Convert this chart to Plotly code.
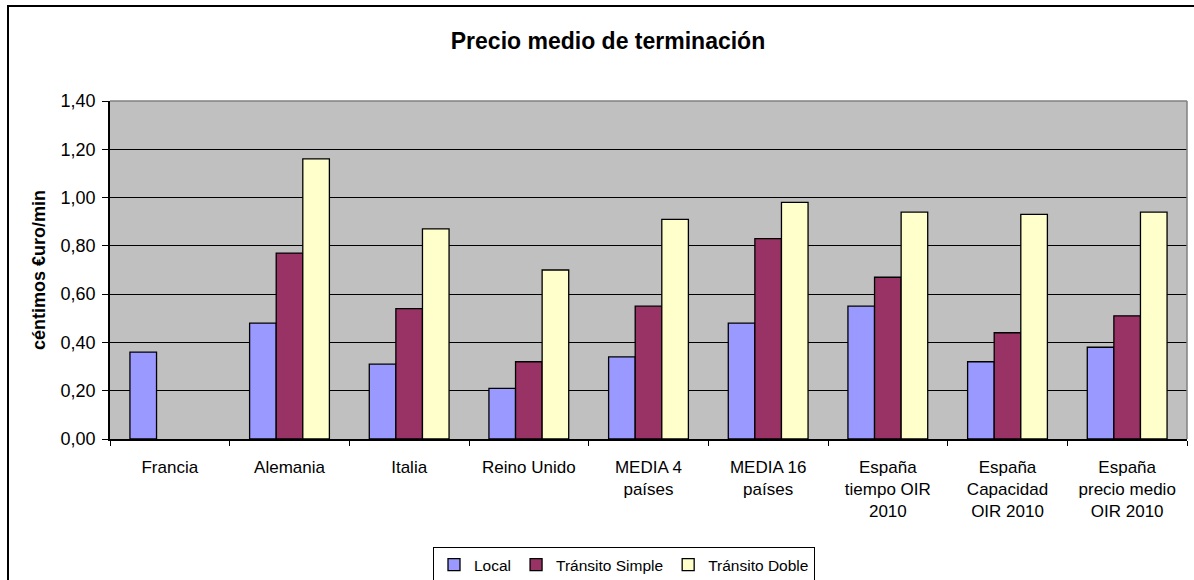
import plotly.graph_objects as go

categories = ["Francia", "Alemania", "Italia", "Reino Unido", "MEDIA 4<br>países",
              "MEDIA 16<br>países", "España<br>tiempo OIR<br>2010",
              "España<br>Capacidad<br>OIR 2010", "España<br>precio medio<br>OIR 2010"]
local = [0.36, 0.48, 0.31, 0.21, 0.34, 0.48, 0.55, 0.32, 0.38]
transito_simple = [None, 0.77, 0.54, 0.32, 0.55, 0.83, 0.67, 0.44, 0.51]
transito_doble = [None, 1.16, 0.87, 0.70, 0.91, 0.98, 0.94, 0.93, 0.94]
y_ticks = [0, 0.2, 0.4, 0.6, 0.8, 1.0, 1.2, 1.4]

FONT = "Liberation Sans, Arial, sans-serif"

fig = go.Figure()
for name, vals, color in [("Local", local, "#9999FF"),
                          ("Tránsito Simple", transito_simple, "#993366"),
                          ("Tránsito Doble", transito_doble, "#FFFFCC")]:
    fig.add_trace(go.Bar(x=categories, y=vals, name=name,
                         marker=dict(color=color, line=dict(color="#000000", width=1.3))))

L, R, T, B = 110, 7, 101, 141
W, H = 1194, 580
pw, ph = W - L - R, H - T - B

def px_x(p):
    return (p - L) / pw

def px_y(p):
    return (H - B - p) / ph

fig.update_layout(
    width=W, height=H,
    margin=dict(l=L, r=R, t=T, b=B, pad=0),
    paper_bgcolor="white",
    plot_bgcolor="#C0C0C0",
    separators=",.",
    barmode="group",
    bargap=1.5 / 4.5,
    bargroupgap=0,
    font=dict(family=FONT, size=17, color="#000000"),
    title=dict(text="<b>Precio medio de terminación</b>", font=dict(size=23, family=FONT),
               x=608 / W, xref="container", xanchor="center",
               y=1 - 41 / H, yref="container", yanchor="middle"),
    legend=dict(orientation="h", xref="container", yref="container",
                x=624 / W, xanchor="center", y=1 - 547 / H, yanchor="top",
                bordercolor="#000000", borderwidth=1, bgcolor="white",
                font=dict(size=15.5, family=FONT), itemwidth=30, tracegroupgap=0),
    showlegend=True,
)

fig.update_xaxes(
    showline=True, linecolor="#000000", linewidth=1.5,
    ticks="outside", tickson="boundaries", ticklen=5, tickcolor="#000000", tickwidth=1.2,
    showgrid=False, tickfont=dict(size=17), ticklabelstandoff=12,
)
fig.update_yaxes(
    range=[0, 1.4], tickvals=y_ticks, tickformat=".2f",
    showline=True, linecolor="#000000", linewidth=1.5,
    ticks="outside", ticklen=6, tickcolor="#000000", tickwidth=1.2,
    showgrid=True, gridcolor="#000000", gridwidth=1,
    zeroline=False, tickfont=dict(size=18), ticklabelstandoff=3,
    title=dict(text="<b>céntimos €uro/min</b>", font=dict(size=18), standoff=10),
)

# plot-area top/right border (grey) and outer chart border
fig.add_shape(type="line", xref="paper", yref="paper", x0=0, x1=1, y0=1, y1=1,
              line=dict(color="#808080", width=1.5))
fig.add_shape(type="line", xref="paper", yref="paper", x0=1, x1=1, y0=0, y1=1,
              line=dict(color="#808080", width=1.5))
fig.add_shape(type="rect", xref="paper", yref="paper",
              x0=px_x(8), x1=px_x(1230), y0=px_y(620), y1=px_y(6),
              line=dict(color="#000000", width=2), fillcolor="rgba(0,0,0,0)")

fig.write_html("out.html", config={"displayModeBar": False},
               post_script="document.body.style.margin='0';")
